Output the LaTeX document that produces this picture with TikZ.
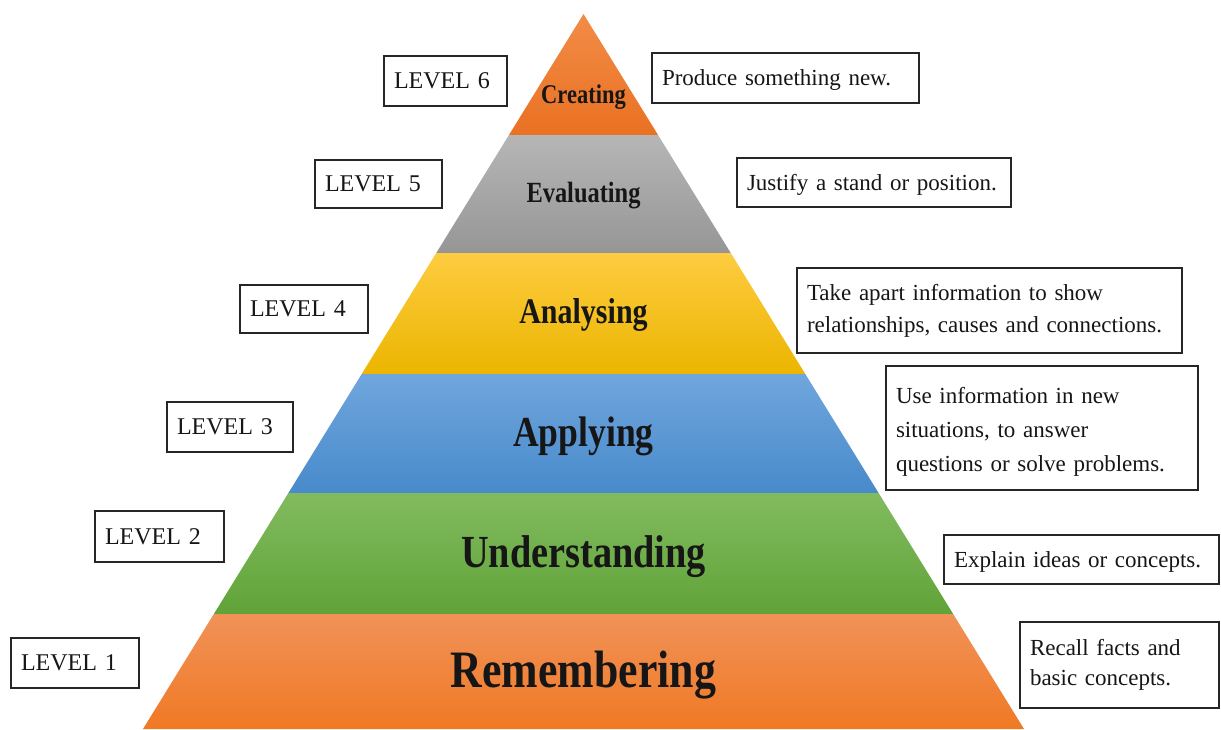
\documentclass[tikz,border=0pt]{standalone}
\usepackage{fontspec}
\setmainfont{Liberation Serif}
\usepackage{graphicx}
\usepackage{tikz}
\usetikzlibrary{calc}

\definecolor{inkblack}{RGB}{22,22,22}
\definecolor{creTop}{RGB}{242,140,70}
\definecolor{creBot}{RGB}{233,113,35}
\definecolor{evaTop}{RGB}{182,182,182}
\definecolor{evaBot}{RGB}{150,150,150}
\definecolor{anaTop}{RGB}{253,204,64}
\definecolor{anaBot}{RGB}{236,181,0}
\definecolor{appTop}{RGB}{112,166,221}
\definecolor{appBot}{RGB}{72,138,203}
\definecolor{undTop}{RGB}{130,187,95}
\definecolor{undBot}{RGB}{96,163,56}
\definecolor{remTop}{RGB}{240,146,88}
\definecolor{remBot}{RGB}{240,121,36}

\tikzset{
	lvlbox/.style={draw=black!85, line width=1.4pt, fill=white, inner xsep=10pt, inner ysep=0pt,
		align=left, text=inkblack, font=\fontsize{24}{30}\selectfont},
	descbox/.style={lvlbox, font=\fontsize{23}{32}\selectfont},
	oneline/.style={text height=15.5pt, text depth=0pt},
	bandlabel/.style={anchor=base, text=inkblack, inner sep=0pt}
}

\begin{document}
\begin{tikzpicture}[x=1pt, y=-1pt]
		%%%%% START %%%%%
		
		\path[fill=white, use as bounding box] (0, 0) rectangle (1221, 729);
		
		% pyramid bands, apex (583.5,14), base half width 440.5 (slope 440.5/715)
		\foreach \yt/\yb/\nm/\sz/\yy/\txt in {
				14/135/cre/22.5/103/Creating,
				135/253/eva/24.4/202/Evaluating,
				253/374/ana/30/323/Analysing,
				374/493/app/35.6/446/Applying,
				493/614/und/38.3/567/Understanding,
				614/729/rem/43.8/687/Remembering}{
			\pgfmathsetmacro\wt{0.616084*(\yt-14)}
			\pgfmathsetmacro\wb{0.616084*(\yb-14)}
			\shade[top color=\nm Top, bottom color=\nm Bot]
				({583.5-\wt}, \yt) -- ({583.5+\wt}, \yt) -- ({583.5+\wb}, \yb) -- ({583.5-\wb}, \yb) -- cycle;
			\node[bandlabel, font=\bfseries\fontsize{\sz}{\sz}\selectfont] (\nm) at (583.5, \yy) {\scalebox{1}[1.2]{\txt}};
		}
		
		% levels
		\node[lvlbox, oneline, text width=103pt, minimum height=50pt] (lvl6) at (445.5, 81) {LEVEL 6};
		\node[lvlbox, oneline, text width=107pt, minimum height=48pt] (lvl5) at (378.5, 184) {LEVEL 5};
		\node[lvlbox, oneline, text width=108pt, minimum height=48pt] (lvl4) at (304, 309) {LEVEL 4};
		\node[lvlbox, oneline, text width=106pt, minimum height=50pt] (lvl3) at (230, 427) {LEVEL 3};
		\node[lvlbox, oneline, text width=109pt, minimum height=51pt] (lvl2) at (159.5, 536.5) {LEVEL 2};
		\node[lvlbox, oneline, text width=108pt, minimum height=50pt] (lvl1) at (75, 663) {LEVEL 1};
		
		% descriptions
		\node[descbox, oneline, text width=247pt, minimum height=50pt] (desc6) at (785.5, 78) {Produce something new.};
		\node[descbox, oneline, text width=254pt, minimum height=49pt] (desc5) at (874, 182.5) {Justify a stand or position.};
		\node[descbox, text width=365pt, minimum height=85pt] (desc4) at (989.5, 310.5)
			{Take apart information to show\\relationships, causes and connections.};
		\node[descbox, text width=292pt, minimum height=124pt, font=\fontsize{23}{34}\selectfont] (desc3) at (1042, 428)
			{\strut Use information in new\\situations, to answer\\questions or solve problems.};
		\node[descbox, oneline, text width=255pt, minimum height=49pt] (desc2) at (1081.5, 559.5) {Explain ideas or concepts.};
		\node[descbox, text width=179pt, minimum height=86pt, font=\fontsize{23}{30}\selectfont] (desc1) at (1119.5, 665)
			{Recall facts and\\basic concepts.};
		
		%%%%% END %%%%%
	\end{tikzpicture}
\end{document}
